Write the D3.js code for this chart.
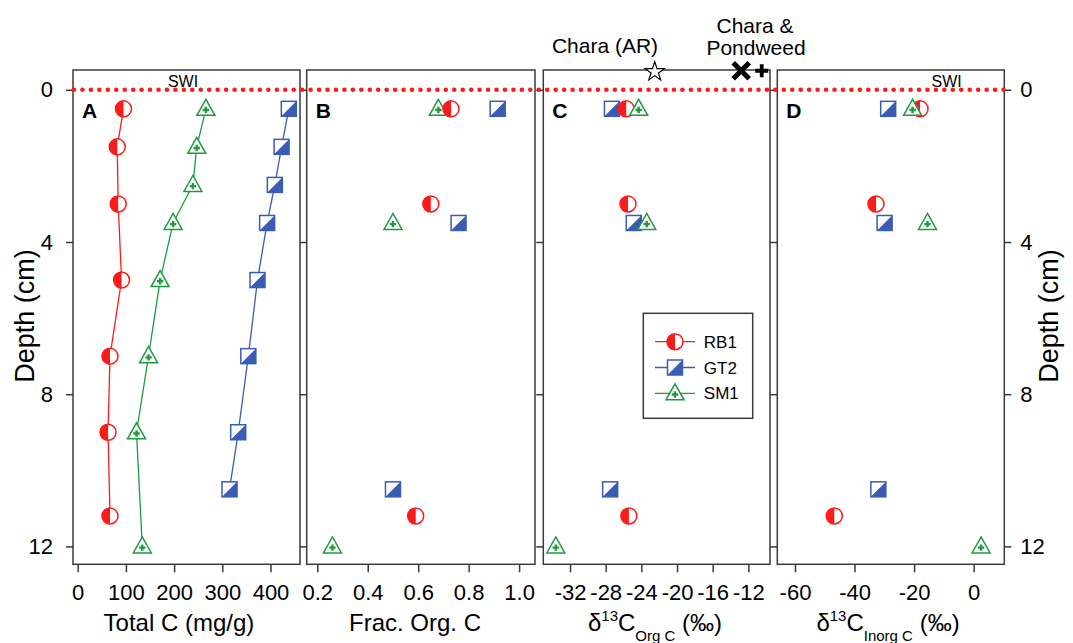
<!DOCTYPE html>
<html>
<head>
<meta charset="utf-8">
<script src="https://cdn.jsdelivr.net/npm/d3@7"></script>
<style>
  body { margin: 0; background: #fff; }
  svg text { font-family: Arial, "Liberation Sans", sans-serif; fill: #000; }
</style>
</head>
<body>
<svg id="chart" width="1073" height="643"></svg>
<script>
// ---- data ----
const seriesNames = ["RB1", "GT2", "SM1"];
const depthTicks = [0, 4, 8, 12];

// panel A: total C profiles
const depthRB1 = [0.5, 1.5, 3, 5, 7, 9, 11.2];
const depthGT2 = [0.5, 1.5, 2.5, 3.5, 5, 7, 9, 10.5];
const depthSM1 = [0.5, 1.5, 2.5, 3.5, 5, 7, 9, 12];
const totalC_RB1 = [95, 82, 84, 91, 67, 63, 67];
const totalC_GT2 = [438, 423, 409, 393, 373, 354, 333, 315];
const totalC_SM1 = [266, 247, 239, 198, 171, 147, 122, 134];

// panels B-D: three sampled depths per core
const sampleDepthRB1 = [0.5, 3, 11.2];
const sampleDepthGT2 = [0.5, 3.5, 10.5];
const sampleDepthSM1 = [0.5, 3.5, 12];
const fracOrg_RB1 = [0.73, 0.65, 0.59];
const fracOrg_GT2 = [0.915, 0.76, 0.50];
const fracOrg_SM1 = [0.68, 0.50, 0.26];
const d13Org_RB1 = [-25.7, -25.5, -25.4];
const d13Org_GT2 = [-27.3, -24.85, -27.5];
const d13Org_SM1 = [-24.3, -23.4, -33.6];
const d13Inorg_RB1 = [-18.0, -32.8, -46.8];
const d13Inorg_GT2 = [-28.7, -29.9, -32.0];
const d13Inorg_SM1 = [-20.5, -15.5, 2.5];

// end-member values marked on top of panel C
const charaAR = -22.5;
const charaPond = -12.8;
const pondweed = -10.5;

const ticksA = [0, 100, 200, 300, 400];
const ticksB = [0.2, 0.4, 0.6, 0.8, 1.0];
const ticksC = [-32, -28, -24, -20, -16, -12];
const ticksD = [-60, -40, -20, 0];

// ---- styling ----
const RED = "#ff1a1a", BLUE = "#3a5cb4", GREEN = "#1f9a40", AXIS = "#3a3a3a";
const plotTop = 70, plotBottom = 564.3;

const svg = d3.select("#chart");
const y = d3.scaleLinear().domain([-0.52, 12.47]).range([plotTop, plotBottom]);

function drawMarker(g, name) {
    if (name === "RB1") {
        g.append("circle").attr("r", 8).attr("fill", "#fff")
            .attr("stroke", RED).attr("stroke-width", 1.5);
        g.append("path").attr("d", "M0,-8A8,8 0 0,0 0,8Z").attr("fill", RED);
    } else if (name === "GT2") {
        g.append("rect").attr("x", -7.5).attr("y", -7.5).attr("width", 15).attr("height", 15)
            .attr("fill", "#fff").attr("stroke", BLUE).attr("stroke-width", 1.5);
        g.append("path").attr("d", "M7.5,-7.5L7.5,7.5L-7.5,7.5Z").attr("fill", BLUE);
    } else {
        g.append("path").attr("d", "M0,-9.5L9,6.5L-9,6.5Z").attr("fill", "#fff")
            .attr("stroke", GREEN).attr("stroke-width", 1.5).attr("stroke-linejoin", "miter");
        g.append("path").attr("d", "M-3.2,1.2H3.2M0,-2V4.4").attr("stroke", GREEN)
            .attr("stroke-width", 2.4);
    }
}
const colorOf = {RB1: RED, GT2: BLUE, SM1: GREEN};

const panels = [
    {label: "A", left: 73, right: 300, domain: [-9.75, 461.2], ticks: ticksA, fmt: d => String(d),
     line: true, order: ["RB1", "GT2", "SM1"],
     series: [
        {name: "RB1", depth: depthRB1, vals: totalC_RB1},
        {name: "GT2", depth: depthGT2, vals: totalC_GT2},
        {name: "SM1", depth: depthSM1, vals: totalC_SM1}]},
    {label: "B", left: 306.7, right: 535, domain: [0.158, 1.063], ticks: ticksB, fmt: d3.format(".1f"),
     line: false, order: ["GT2", "SM1", "RB1"],
     series: [
        {name: "RB1", depth: sampleDepthRB1, vals: fracOrg_RB1},
        {name: "GT2", depth: sampleDepthGT2, vals: fracOrg_GT2},
        {name: "SM1", depth: sampleDepthSM1, vals: fracOrg_SM1}]},
    {label: "C", left: 543.3, right: 770, domain: [-35.0, -9.57], ticks: ticksC, fmt: d => String(d),
     line: false, order: ["GT2", "RB1", "SM1"],
     series: [
        {name: "RB1", depth: sampleDepthRB1, vals: d13Org_RB1},
        {name: "GT2", depth: sampleDepthGT2, vals: d13Org_GT2},
        {name: "SM1", depth: sampleDepthSM1, vals: d13Org_SM1}]},
    {label: "D", left: 777.3, right: 1004.3, domain: [-65.94, 10.3], ticks: ticksD, fmt: d => String(d),
     line: false, order: ["RB1", "GT2", "SM1"],
     series: [
        {name: "RB1", depth: sampleDepthRB1, vals: d13Inorg_RB1},
        {name: "GT2", depth: sampleDepthGT2, vals: d13Inorg_GT2},
        {name: "SM1", depth: sampleDepthSM1, vals: d13Inorg_SM1}]}
];

const xScales = {};

panels.forEach((p, i) => {
    const x = d3.scaleLinear().domain(p.domain).range([p.left, p.right]);
    xScales[p.label] = x;
    const g = svg.append("g").attr("class", "panel" + p.label);

    // bottom axis
    const ax = g.append("g").attr("transform", "translate(0," + plotBottom + ")")
        .style("color", AXIS)
        .call(d3.axisBottom(x).tickValues(p.ticks).tickSize(8).tickPadding(12).tickFormat(p.fmt));
    ax.select(".domain").remove();
    ax.selectAll("line").attr("stroke-width", 1.5);
    ax.selectAll("text").style("font-size", "22px");

    // left depth ticks
    const ay = g.append("g").attr("transform", "translate(" + p.left + ",0)")
        .style("color", AXIS)
        .call(d3.axisLeft(y).tickValues(depthTicks).tickSize(7).tickPadding(13)
            .tickFormat(i === 0 ? (d => String(d)) : () => ""));
    ay.select(".domain").remove();
    ay.selectAll("line").attr("stroke-width", 1.5);
    ay.selectAll("text").style("font-size", "22px");

    if (i === panels.length - 1) {
        const ar = g.append("g").attr("transform", "translate(" + p.right + ",0)")
            .style("color", AXIS)
            .call(d3.axisRight(y).tickValues(depthTicks).tickSize(7).tickPadding(9)
                .tickFormat(d => String(d)));
        ar.select(".domain").remove();
        ar.selectAll("line").attr("stroke-width", 1.5);
        ar.selectAll("text").style("font-size", "22px");
    }

    // frame
    g.append("rect").attr("x", p.left).attr("y", plotTop)
        .attr("width", p.right - p.left).attr("height", plotBottom - plotTop)
        .attr("fill", "none").attr("stroke", AXIS).attr("stroke-width", 1.5);

    // panel letter
    g.append("text").attr("x", p.left + 9).attr("y", 118)
        .style("font-size", "21px").style("font-weight", "bold").text(p.label);

    // profile lines
    if (p.line) {
        const lineGen = d3.line().x(d => x(d.v)).y(d => y(d.depth));
        p.series.forEach(s => {
            const pts = s.vals.map((v, k) => ({v: v, depth: s.depth[k]}));
            g.append("path").attr("d", lineGen(pts)).attr("fill", "none")
                .attr("stroke", colorOf[s.name]).attr("stroke-width", 1.3);
        });
    }

    // markers
    p.order.forEach(name => {
        const s = p.series.find(d => d.name === name);
        const pts = s.vals.map((v, k) => ({v: v, depth: s.depth[k]}));
        g.selectAll("g.m" + name).data(pts).enter().append("g")
            .attr("class", "m" + name)
            .attr("transform", d => "translate(" + x(d.v) + "," + y(d.depth) + ")")
            .each(function() { drawMarker(d3.select(this), name); });
    });
});

// sediment-water interface
svg.append("line")
    .attr("x1", panels[0].left + 1).attr("x2", panels[3].right)
    .attr("y1", y(0)).attr("y2", y(0))
    .attr("stroke", RED).attr("stroke-width", 4.6)
    .attr("stroke-linecap", "round").attr("stroke-dasharray", "0,8.45");
svg.append("text").attr("x", 183).attr("y", 86.5).attr("text-anchor", "middle")
    .style("font-size", "16px").text("SWI");
svg.append("text").attr("x", 946.7).attr("y", 86.5).attr("text-anchor", "middle")
    .style("font-size", "16px").text("SWI");

// axis titles
const titleY = 631;
svg.append("text").attr("x", xScales.A(210)).attr("y", titleY).attr("text-anchor", "middle")
    .style("font-size", "24px").text("Total C (mg/g)");
svg.append("text").attr("x", 415).attr("y", titleY).attr("text-anchor", "middle")
    .style("font-size", "24px").text("Frac. Org. C");

function deltaTitle(cx, sub) {
    const t = svg.append("text").attr("x", cx).attr("y", titleY).attr("text-anchor", "middle")
        .style("font-size", "24px");
    t.append("tspan").text("\u03B4");
    t.append("tspan").attr("dy", -10).style("font-size", "15px").text("13");
    t.append("tspan").attr("dy", 10).text("C");
    t.append("tspan").attr("dy", 10).style("font-size", "15px").text(sub);
    t.append("tspan").attr("dy", -10).text(" (\u2030)");
}
deltaTitle(655, "Org C");
deltaTitle(888, "Inorg C");

// depth titles
svg.append("text").attr("transform", "translate(34,316) rotate(-90)")
    .attr("text-anchor", "middle").style("font-size", "27px").text("Depth (cm)");
svg.append("text").attr("transform", "translate(1058,316) rotate(-90)")
    .attr("text-anchor", "middle").style("font-size", "27px").text("Depth (cm)");

// end members on panel C
const xc = xScales.C;
const yTop = y.domain()[0] + 0.02;
svg.append("path").attr("d", d3.symbol().type(d3.symbolStar).size(115)())
    .attr("transform", "translate(" + xc(charaAR) + "," + (y(yTop) + 1) + ")")
    .attr("fill", "#fff").attr("stroke", "#000").attr("stroke-width", 1.2);
svg.append("path").attr("d", "M-8,-8L8,8M-8,8L8,-8")
    .attr("transform", "translate(" + xc(charaPond) + "," + y(yTop) + ")")
    .attr("stroke", "#000").attr("stroke-width", 5);
svg.append("path").attr("d", "M-6.5,0H6.5M0,-6.5V6.5")
    .attr("transform", "translate(" + xc(pondweed) + "," + y(yTop) + ")")
    .attr("stroke", "#000").attr("stroke-width", 3.8);
svg.append("text").attr("x", 605).attr("y", 53).attr("text-anchor", "middle")
    .style("font-size", "21px").text("Chara (AR)");
svg.append("text").attr("x", 755).attr("y", 33).attr("text-anchor", "middle")
    .style("font-size", "21px").text("Chara &");
svg.append("text").attr("x", 756).attr("y", 55).attr("text-anchor", "middle")
    .style("font-size", "21px").text("Pondweed");

// legend
const lg = svg.append("g").attr("transform", "translate(643.3,313.3)");
lg.append("rect").attr("width", 109.4).attr("height", 105)
    .attr("fill", "#fff").attr("stroke", AXIS).attr("stroke-width", 1.5);
seriesNames.forEach((name, k) => {
    const row = lg.append("g").attr("transform", "translate(0," + (28.4 + k * 25.8) + ")");
    row.append("line").attr("x1", 11.7).attr("x2", 51.7)
        .attr("stroke", colorOf[name]).attr("stroke-width", 1.3);
    drawMarker(row.append("g").attr("transform", "translate(31.7,0)"), name);
    row.append("text").attr("x", 60.5).attr("y", 6).style("font-size", "17px").text(name);
});
</script>
</body>
</html>
